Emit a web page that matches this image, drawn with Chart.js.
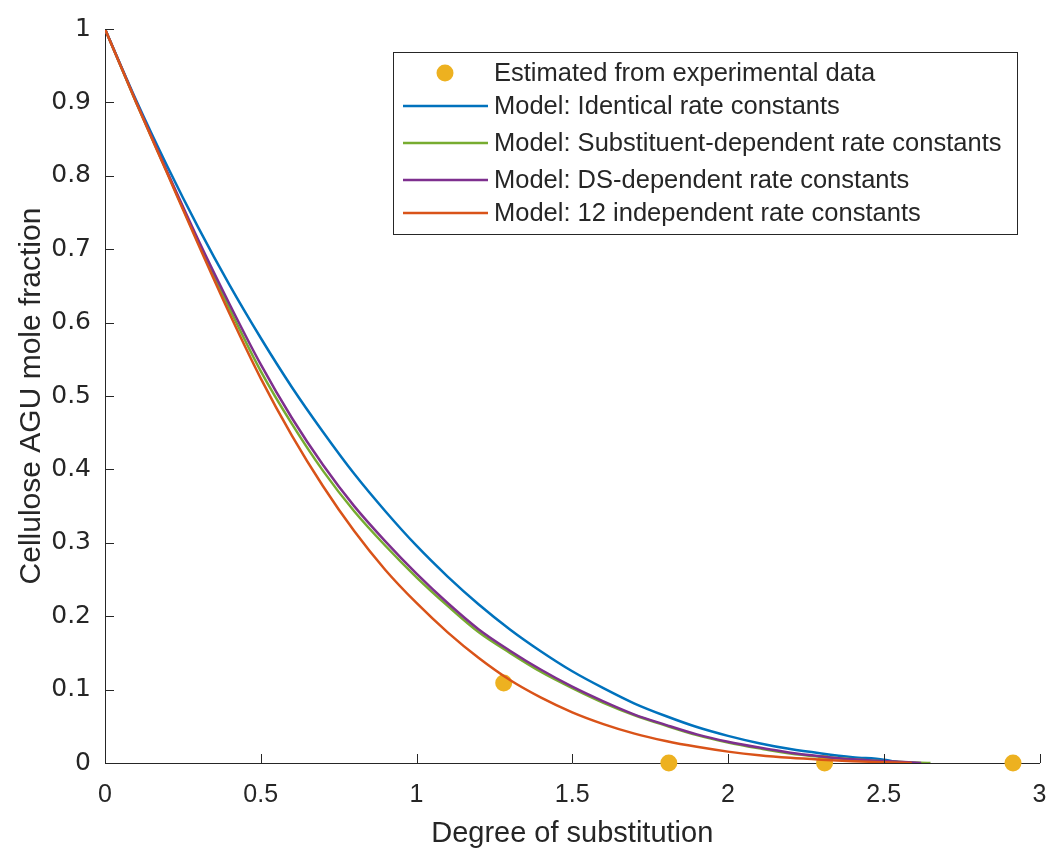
<!DOCTYPE html>
<html>
<head>
<meta charset="utf-8">
<script src="https://cdn.jsdelivr.net/npm/chart.js@4"></script>
<style>
  html, body { margin: 0; padding: 0; background: #fff; }
  #wrap { width: 1048px; height: 851px; }
</style>
</head>
<body>
<div id="wrap"><canvas id="chart" width="1048" height="851"></canvas></div>
<script>
// Degree of substitution grid used for the model curves
const dsGrid = [0, 0.1, 0.2, 0.3, 0.4, 0.5, 0.6, 0.7, 0.8, 0.9, 1.0, 1.1, 1.2,
                1.3, 1.4, 1.5, 1.6, 1.7, 1.8, 1.9, 2.0, 2.1, 2.2, 2.3, 2.4, 2.5];

// Model curves
const identicalY = [1, 0.903, 0.813, 0.729, 0.651, 0.579, 0.512, 0.451, 0.394, 0.343, 0.296, 0.254, 0.216,
                    0.182, 0.152, 0.125, 0.102, 0.081, 0.064, 0.049, 0.037, 0.027, 0.019, 0.013, 0.008, 0.0046];
const substituentY = [1, 0.900, 0.804, 0.709, 0.619, 0.534, 0.462, 0.398, 0.343, 0.296, 0.253, 0.214, 0.178,
                      0.150, 0.124, 0.102, 0.082, 0.065, 0.051, 0.038, 0.028, 0.020, 0.013, 0.0085, 0.005, 0.0025];
const dsDependentY = [1, 0.901, 0.805, 0.712, 0.625, 0.543, 0.470, 0.406, 0.350, 0.302, 0.258, 0.218, 0.182,
                      0.153, 0.127, 0.104, 0.084, 0.066, 0.052, 0.039, 0.029, 0.021, 0.014, 0.009, 0.005, 0.0026];
const independentY = [1, 0.900, 0.803, 0.706, 0.612, 0.524, 0.446, 0.377, 0.316, 0.263, 0.218, 0.178, 0.143,
                      0.113, 0.089, 0.069, 0.053, 0.040, 0.030, 0.022, 0.0155, 0.0105, 0.007, 0.0045, 0.0025, 0.001];
// where each model curve reaches zero
const curveEndDS = [2.56, 2.65, 2.62, 2.59];

// Experimental estimates
const expDS = [1.28, 1.81, 2.31, 2.915];
const expY = [0.109, 0, 0, 0];

const seriesLabels = [
    'Estimated from experimental data',
    'Model: Identical rate constants',
    'Model: Substituent-dependent rate constants',
    'Model: DS-dependent rate constants',
    'Model: 12 independent rate constants'
];
const seriesColors = ['#EDB120', '#0072BD', '#77AC30', '#7E2F8E', '#D95319'];

const xTicks = [0, 0.5, 1, 1.5, 2, 2.5, 3];
const yTicks = [0, 0.1, 0.2, 0.3, 0.4, 0.5, 0.6, 0.7, 0.8, 0.9, 1];

const axisColor = '#262626';

function toPoints(xs, ys, endX) {
    const pts = xs.map((x, i) => ({ x: x, y: ys[i] }));
    if (endX !== undefined) pts.push({ x: endX, y: 0 });
    return pts;
}

const curveValues = [identicalY, substituentY, dsDependentY, independentY];

const datasets = [{
    label: seriesLabels[0],
    data: toPoints(expDS, expY),
    backgroundColor: seriesColors[0],
    borderColor: seriesColors[0],
    pointRadius: 8.5,
    pointBorderWidth: 0,
    showLine: false,
    clip: false,
    order: 5
}];
curveValues.forEach((ys, i) => {
    datasets.push({
        label: seriesLabels[i + 1],
        data: toPoints(dsGrid, ys, curveEndDS[i]),
        borderColor: seriesColors[i + 1],
        backgroundColor: seriesColors[i + 1],
        borderWidth: 2.5,
        pointRadius: 0,
        showLine: true,
        cubicInterpolationMode: 'monotone',
        order: 4 - i
    });
});

// inward tick marks (MATLAB style)
const inwardTicks = {
    id: 'inwardTicks',
    afterDatasetsDraw(chart) {
        const { ctx, chartArea, scales } = chart;
        ctx.save();
        ctx.strokeStyle = axisColor;
        ctx.lineWidth = 1;
        ctx.beginPath();
        xTicks.forEach(v => {
            const px = Math.round(scales.x.getPixelForValue(v)) + 0.5;
            ctx.moveTo(px, chartArea.bottom);
            ctx.lineTo(px, chartArea.bottom - 9);
        });
        yTicks.forEach(v => {
            const py = Math.round(scales.y.getPixelForValue(v)) + 0.5;
            ctx.moveTo(chartArea.left, py);
            ctx.lineTo(chartArea.left + 9, py);
        });
        ctx.stroke();
        ctx.restore();
    }
};

// legend box inside the plot
const boxLegend = {
    id: 'boxLegend',
    afterDraw(chart) {
        const ctx = chart.ctx;
        const x0 = 393, y0 = 52, w = 624, h = 182;
        const rows = [73, 106, 143, 180, 213];
        ctx.save();
        ctx.fillStyle = '#fff';
        ctx.fillRect(x0, y0, w, h);
        ctx.strokeStyle = axisColor;
        ctx.lineWidth = 1;
        ctx.strokeRect(x0 + 0.5, y0 + 0.5, w, h);
        ctx.font = '25.5px "Liberation Sans", Arial, sans-serif';
        ctx.textBaseline = 'middle';
        chart.data.datasets.forEach((ds, i) => {
            const y = rows[i];
            if (ds.showLine) {
                ctx.strokeStyle = ds.borderColor;
                ctx.lineWidth = 2.5;
                ctx.beginPath();
                ctx.moveTo(403, y);
                ctx.lineTo(488, y);
                ctx.stroke();
            } else {
                ctx.fillStyle = ds.backgroundColor;
                ctx.beginPath();
                ctx.arc(445, y, 8.5, 0, Math.PI * 2);
                ctx.fill();
            }
            ctx.fillStyle = axisColor;
            ctx.fillText(ds.label, 494, y + 1);
        });
        ctx.restore();
    }
};

new Chart(document.getElementById('chart'), {
    type: 'scatter',
    data: { datasets: datasets },
    options: {
        responsive: false,
        animation: false,
        layout: { padding: { left: 0, right: 6, top: 28, bottom: 0 } },
        plugins: { legend: { display: false }, tooltip: { enabled: false } },
        scales: {
            x: {
                type: 'linear',
                min: 0,
                max: 3,
                afterBuildTicks: s => { s.ticks = xTicks.map(v => ({ value: v })); },
                afterFit: s => { s.height = 88; s.paddingLeft = 0; s.paddingRight = 0; },
                ticks: {
                    color: axisColor,
                    padding: 17,
                    maxRotation: 0,
                    font: { family: '"Liberation Sans", Arial, sans-serif', size: 25 },
                    callback: v => String(v)
                },
                grid: { drawOnChartArea: false, drawTicks: false },
                border: { display: true, color: axisColor, width: 1 },
                title: {
                    display: true,
                    text: 'Degree of substitution',
                    color: axisColor,
                    font: { family: '"Liberation Sans", Arial, sans-serif', size: 29 },
                    padding: { top: 4, bottom: 0 }
                }
            },
            y: {
                type: 'linear',
                min: 0,
                max: 1,
                afterBuildTicks: s => { s.ticks = yTicks.map(v => ({ value: v })); },
                afterFit: s => { s.width = 105; },
                ticks: {
                    color: axisColor,
                    padding: 14,
                    font: { family: '"DejaVu Sans", sans-serif', size: 25 },
                    callback: v => String(+v.toFixed(1))
                },
                grid: { drawOnChartArea: false, drawTicks: false },
                border: { display: true, color: axisColor, width: 1 },
                title: {
                    display: true,
                    text: 'Cellulose AGU mole fraction',
                    color: axisColor,
                    font: { family: '"Liberation Sans", Arial, sans-serif', size: 30 },
                    padding: { top: 14, bottom: 0 }
                }
            }
        }
    },
    plugins: [inwardTicks, boxLegend]
});
</script>
</body>
</html>
